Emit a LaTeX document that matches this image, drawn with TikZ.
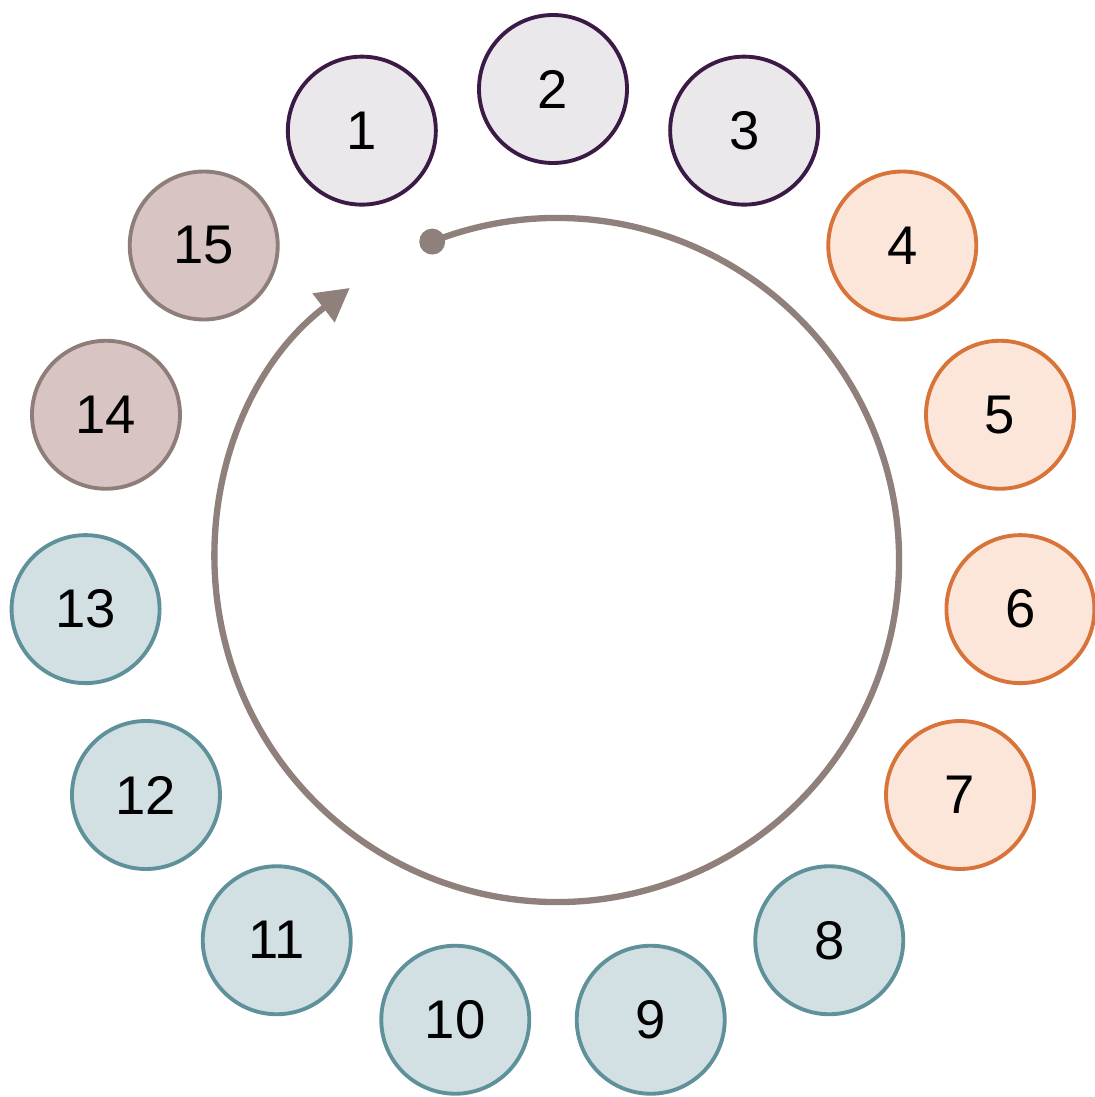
\documentclass[tikz,border=0pt]{standalone}
\usepackage{fontspec}
\setmainfont{Liberation Sans}
\usetikzlibrary{arrows.meta,positioning,calc}

\definecolor{plumline}{HTML}{3B1A45}
\definecolor{plumfill}{HTML}{EBE8EC}
\definecolor{orangeline}{HTML}{D8733A}
\definecolor{orangefill}{HTML}{FCE5D9}
\definecolor{tealline}{HTML}{5F919A}
\definecolor{tealfill}{HTML}{D3E0E3}
\definecolor{mauveline}{HTML}{8D7E7A}
\definecolor{mauvefill}{HTML}{D9C4C4}
\definecolor{cycleline}{HTML}{8F807B}

\tikzset{
	ball/.style={
		circle,
		line width=1.1pt,
		minimum size=1.48cm,
		inner sep=0pt,
		font=\fontsize{15.5}{18}\selectfont
	},
	plum ball/.style={ball, draw=plumline, fill=plumfill},
	orange ball/.style={ball, draw=orangeline, fill=orangefill},
	teal ball/.style={ball, draw=tealline, fill=tealfill},
	mauve ball/.style={ball, draw=mauveline, fill=mauvefill}
}

\begin{document}
\begin{tikzpicture}[
		cycle arrow/.style={
			draw=cycleline,
			line width=1.8pt,
			-{Triangle[length=3.3mm,width=3.5mm]}
		},
		dot/.style={
			circle,
			fill=cycleline,
			minimum size=2.6mm,
			inner sep=0pt
		}
		]
		
		\useasboundingbox (0,0) rectangle (10.94,-10.97);
		
		% ring of states
		\begin{scope}[shift={(5.53,-5.60)}]
			\node[plum ball] (s1) at (114:4.70) {1};
			\node[plum ball] (s2) at (90:4.71) {2};
			\node[plum ball] (s3) at (66:4.70) {3};
			\node[orange ball] (s4) at (42:4.70) {4};
			\node[orange ball] (s5) at (18:4.70) {5};
			\node[orange ball] (s6) at (-6:4.70) {6};
			\node[orange ball] (s7) at (-30:4.70) {7};
			\node[teal ball] (s8) at (-54:4.70) {8};
			\node[teal ball] (s9) at (-78:4.70) {9};
			\node[teal ball] (s10) at (-102:4.70) {10};
			\node[teal ball] (s11) at (-126:4.70) {11};
			\node[teal ball] (s12) at (-150:4.70) {12};
			\node[teal ball] (s13) at (-174:4.70) {13};
			\node[mauve ball] (s14) at (-198:4.70) {14};
			\node[mauve ball] (s15) at (-222:4.70) {15};
		\end{scope}
		
		% cycle
		\begin{scope}[shift={(5.57,-5.60)}]
			\coordinate (start) at (111.4:3.42);
			\draw[cycle arrow] (start) arc[start angle=111.4, end angle=-232.7, radius=3.42];
			\node[dot] (startdot) at (start) {};
		\end{scope}
		
	\end{tikzpicture}
\end{document}
